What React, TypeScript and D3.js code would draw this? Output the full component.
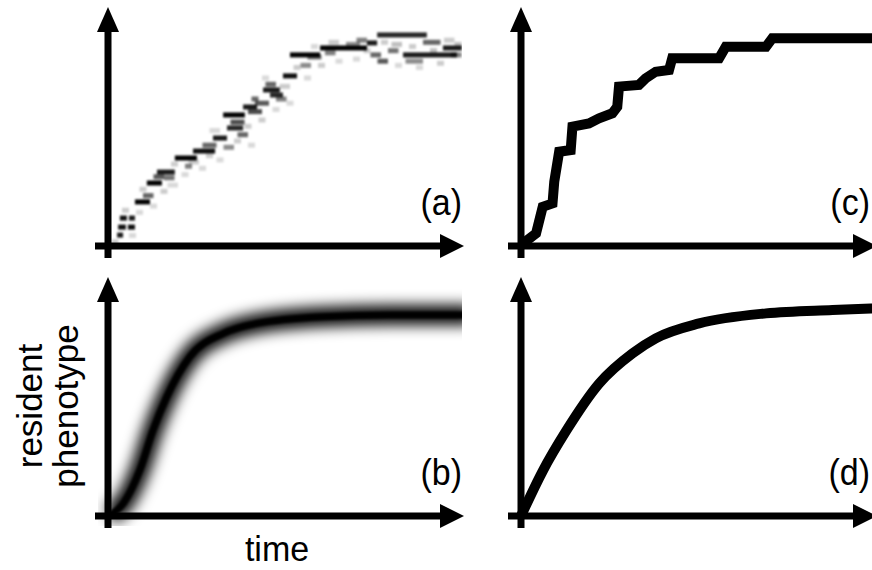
import React, { useRef, useEffect } from "react";
import * as d3 from "d3";

// panel (a): noisy raster of resident phenotypes, [tStart, tEnd, phenotype, shade]
const sampleDashes: number[][] = [
  [2.6, 4.3, 5.2, 0.9],
  [2.9, 5.1, 9.0, 0.95],
  [5.7, 7.7, 9.0, 0.95],
  [3.4, 5.4, 13.3, 0.95],
  [6.0, 7.7, 13.3, 0.9],
  [7.7, 12.0, 21.0, 1],
  [11.1, 15.4, 30.0, 1],
  [14.0, 19.1, 35.2, 0.9],
  [19.1, 25.4, 41.9, 1],
  [24.3, 30.6, 45.2, 0.95],
  [30.0, 34.0, 51.4, 0.9],
  [34.0, 38.6, 56.2, 0.85],
  [32.9, 39.1, 62.4, 1],
  [38.6, 42.6, 66.2, 0.9],
  [44.3, 49.1, 74.3, 0.9],
  [46.3, 50.0, 71.9, 0.85],
  [50.0, 54.0, 81.0, 0.95],
  [52.0, 60.6, 91.0, 1],
  [60.6, 74.0, 94.3, 1],
  [74.0, 76.9, 96.7, 0.9],
  [76.9, 91.1, 100.5, 0.85],
  [84.3, 99.7, 91.0, 0.9],
  [95.7, 101.1, 94.3, 0.9],
];

const blotchDashes: number[][] = [
  [10, 13, 24, 0.6],
  [13, 16, 33, 0.65],
  [16, 19, 32.5, 0.55],
  [22, 24, 38, 0.5],
  [27, 31, 48, 0.6],
  [33, 36, 47, 0.45],
  [35, 39, 59, 0.7],
  [37, 40, 53, 0.6],
  [40, 44, 64, 0.7],
  [41, 43, 70, 0.6],
  [42, 46, 68, 0.65],
  [45, 48, 77, 0.6],
  [48, 51, 70, 0.5],
  [55, 58, 86, 0.45],
  [57, 61, 90, 0.55],
  [62, 65, 92, 0.5],
  [68, 72, 96, 0.45],
  [75, 78, 91, 0.6],
  [77, 80, 88, 0.65],
  [80, 83, 93, 0.55],
  [71, 74, 98, 0.5],
  [90, 95, 97, 0.6],
  [98, 101, 91, 0.5],
  [85, 90, 88, 0.45],
];

const faintDashes: number[][] = [
  [4, 6, 17, 0.2], [8, 10, 16, 0.15], [9, 11, 27, 0.2], [12, 14, 19, 0.15],
  [15, 17, 26, 0.2], [17, 20, 29, 0.15], [18, 20, 39, 0.2], [21, 23, 34, 0.15],
  [23, 26, 40, 0.2], [26, 28, 37, 0.15], [28, 30, 43, 0.2], [29, 32, 55, 0.15],
  [31, 33, 41, 0.15], [36, 38, 50, 0.2], [39, 41, 57, 0.2], [40, 42, 48, 0.15],
  [43, 45, 60, 0.2], [44, 46, 80, 0.15], [47, 49, 65, 0.15], [49, 52, 76, 0.2],
  [51, 53, 68, 0.15], [53, 55, 85, 0.2], [56, 58, 80, 0.15], [58, 60, 95, 0.15],
  [60, 62, 86, 0.2], [63, 66, 97, 0.2], [65, 67, 88, 0.15], [70, 72, 89, 0.15],
  [73, 75, 93, 0.2], [78, 80, 97, 0.2], [81, 84, 96, 0.25], [82, 84, 86, 0.15],
  [86, 88, 95, 0.2], [88, 90, 85, 0.15], [92, 94, 93, 0.25], [94, 96, 87, 0.2],
  [96, 99, 98, 0.2], [99, 101, 96, 0.25], [6, 8, 5, 0.15], [1, 3, 2, 0.2],
];

// panel (b): mean phenotype of the distribution
const meanTimes = [0.6, 4.4, 9.1, 12.9, 16.8, 23.4, 33, 42.5, 61.5, 80.6, 104];
const meanValues = [0.5, 6.1, 21.9, 41, 56.8, 75.9, 87, 91.7, 94.9, 95.7, 95.7];

// panel (c): trait substitution sequence
const stepTimes = [0, 4.3, 6.2, 9, 9.5, 10.9, 14.2, 14.7, 19.4, 22.3, 26.1, 27.5, 28, 33.7, 35.6, 38.5, 42.3, 43.2, 56.6, 58.5, 70, 71.8, 102];
const stepValues = [0.5, 6, 18.7, 20.3, 30.6, 44.9, 45.7, 56.8, 58.4, 60.8, 63.2, 66.3, 75.9, 76.7, 79.8, 83, 83.8, 89.4, 89.4, 94.9, 94.9, 98.9, 98.9];

// panel (d): canonical equation
const smoothTimes = [0, 6.2, 12.9, 22.4, 31.9, 38.5, 50.9, 70, 89, 102];
const smoothValues = [0, 21.4, 40.5, 63.2, 77.5, 84.6, 91.7, 96.5, 98.1, 98.9];

const panelLabels = ["(a)", "(b)", "(c)", "(d)"];
const xLabel = "time";
const yLabelLines = ["resident", "phenotype"];

const font = "'Liberation Sans', Arial, Helvetica, sans-serif";

export default function App() {
  const svgRef = useRef<SVGSVGElement>(null);

  useEffect(() => {
    const svg = d3.select(svgRef.current);
    svg.selectAll("*").remove();

    const colX = [108, 521];
    const rowY = [246, 516];

    const defs = svg.append("defs");
    defs
      .append("filter")
      .attr("id", "soft")
      .append("feGaussianBlur")
      .attr("stdDeviation", 1);
    defs
      .append("filter")
      .attr("id", "wide")
      .attr("x", "-20%")
      .attr("y", "-30%")
      .attr("width", "140%")
      .attr("height", "160%")
      .append("feGaussianBlur")
      .attr("stdDeviation", 7);

    const panels = [
      { ox: colX[0], oy: rowY[0], label: panelLabels[0], end: 462 },
      { ox: colX[0], oy: rowY[1], label: panelLabels[1], end: 462 },
      { ox: colX[1], oy: rowY[0], label: panelLabels[2], end: 870 },
      { ox: colX[1], oy: rowY[1], label: panelLabels[3], end: 870 },
    ];

    panels.forEach((p, i) => {
      const x = d3.scaleLinear().domain([0, 100]).range([p.ox, p.ox + 350]);
      const y = d3.scaleLinear().domain([0, 100]).range([p.oy, p.oy - 210]);
      const g = svg.append("g");

      const clipId = `clip${i}`;
      defs
        .append("clipPath")
        .attr("id", clipId)
        .append("rect")
        .attr("x", p.ox - 10)
        .attr("y", p.oy - 240)
        .attr("width", 364)
        .attr("height", 250);

      const body = g.append("g").attr("clip-path", `url(#${clipId})`);

      if (i === 0) {
        const raster = body.append("g").attr("filter", "url(#soft)");
        const layers = [faintDashes, blotchDashes, sampleDashes];
        layers.forEach((layer) => {
          raster
            .selectAll(null)
            .data(layer)
            .enter()
            .append("rect")
            .attr("x", (d) => x(d[0]))
            .attr("y", (d) => y(d[2]) - 2.5)
            .attr("width", (d) => x(d[1]) - x(d[0]))
            .attr("height", 5)
            .attr("fill", "#000")
            .attr("fill-opacity", (d) => d[3]);
        });
      }

      if (i === 1) {
        const pts = meanTimes.map((t, k) => [t, meanValues[k]] as [number, number]);
        const line = d3
          .line<[number, number]>()
          .curve(d3.curveMonotoneX)
          .x((d) => x(d[0]))
          .y((d) => y(d[1]));
        body
          .append("path")
          .datum(pts)
          .attr("d", line)
          .attr("fill", "none")
          .attr("stroke", "#000")
          .attr("stroke-width", 20)
          .attr("filter", "url(#wide)");
        body
          .append("path")
          .datum(pts)
          .attr("d", line)
          .attr("fill", "none")
          .attr("stroke", "#000")
          .attr("stroke-width", 7)
          .attr("filter", "url(#soft)");
      }

      if (i === 2) {
        const pts = stepTimes.map((t, k) => [t, stepValues[k]] as [number, number]);
        body
          .append("path")
          .datum(pts)
          .attr(
            "d",
            d3
              .line<[number, number]>()
              .x((d) => x(d[0]))
              .y((d) => y(d[1]))
          )
          .attr("fill", "none")
          .attr("stroke", "#000")
          .attr("stroke-width", 10)
          .attr("stroke-linejoin", "miter")
          .attr("stroke-miterlimit", 2);
      }

      if (i === 3) {
        const pts = smoothTimes.map((t, k) => [t, smoothValues[k]] as [number, number]);
        body
          .append("path")
          .datum(pts)
          .attr(
            "d",
            d3
              .line<[number, number]>()
              .curve(d3.curveMonotoneX)
              .x((d) => x(d[0]))
              .y((d) => y(d[1]))
          )
          .attr("fill", "none")
          .attr("stroke", "#000")
          .attr("stroke-width", 10);
      }

      // axes with arrowheads
      const ax = g.append("g");
      ax.append("line")
        .attr("x1", p.ox)
        .attr("x2", p.ox)
        .attr("y1", p.oy + 12)
        .attr("y2", p.oy - 215)
        .attr("stroke", "#000")
        .attr("stroke-width", 7);
      ax.append("path")
        .attr("d", `M${p.ox - 11},${p.oy - 214}L${p.ox},${p.oy - 239}L${p.ox + 11},${p.oy - 214}Z`)
        .attr("fill", "#000");
      ax.append("line")
        .attr("x1", p.ox - 13)
        .attr("x2", p.ox + 333)
        .attr("y1", p.oy)
        .attr("y2", p.oy)
        .attr("stroke", "#000")
        .attr("stroke-width", 7);
      ax.append("path")
        .attr("d", `M${p.ox + 332},${p.oy - 12}L${p.ox + 356},${p.oy}L${p.ox + 332},${p.oy + 12}Z`)
        .attr("fill", "#000");

      g.append("text")
        .attr("transform", `translate(${p.end},${p.oy - 31}) scale(1,1.1)`)
        .attr("text-anchor", "end")
        .attr("font-family", font)
        .attr("font-size", 34)
        .text(p.label);
    });

    svg
      .append("text")
      .attr("transform", `translate(277,561) scale(1,1.05)`)
      .attr("text-anchor", "middle")
      .attr("font-family", font)
      .attr("font-size", 34)
      .text(xLabel);

    yLabelLines.forEach((t, k) => {
      svg
        .append("text")
        .attr("transform", `translate(${42 + k * 36},406) rotate(-90)`)
        .attr("text-anchor", "middle")
        .attr("font-family", font)
        .attr("font-size", 35)
        .text(t);
    });
  }, []);

  return (
    <svg
      ref={svgRef}
      width={872}
      height={570}
      style={{ position: "absolute", left: 0, top: 0, background: "#fff" }}
    />
  );
}
